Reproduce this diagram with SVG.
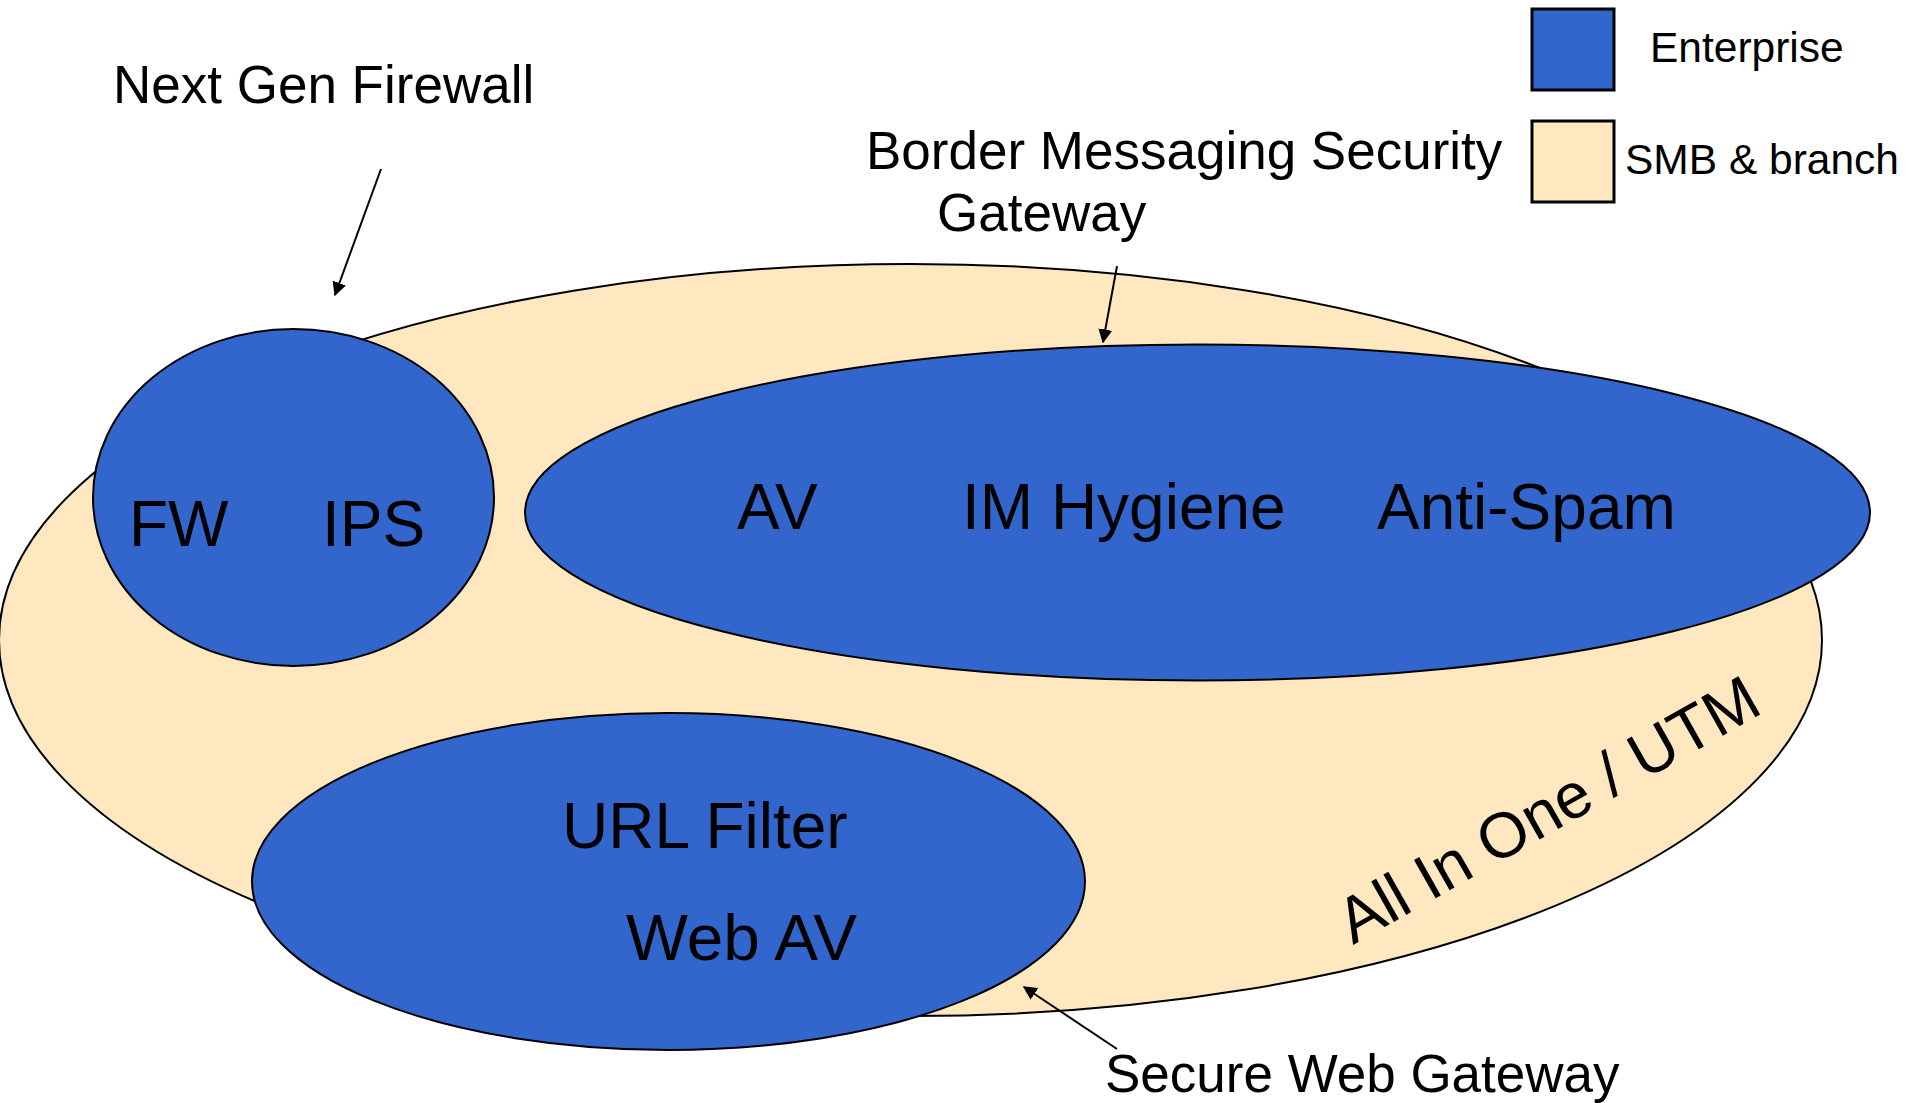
<svg xmlns="http://www.w3.org/2000/svg" width="1909" height="1103" viewBox="0 0 1909 1103">
  <style>
    .ent { fill: #3366CC; stroke: #000; stroke-width: 2; }
    .smb { fill: #FFE8C0; stroke: #000; stroke-width: 2; }
    .key { stroke: #000; stroke-width: 3; }
    .lbl { font-family: "Liberation Sans", Arial, sans-serif; fill: #000; }
    .big { font-size: 64px; }
    .cap { font-size: 53px; }
    .leg { font-size: 42.5px; }
    .arr { stroke: #000; stroke-width: 2; fill: none; marker-end: url(#head); }
  </style>
  <defs>
    <marker id="head" viewBox="0 0 10 10" refX="9" refY="5" markerWidth="7" markerHeight="7" markerUnits="strokeWidth" orient="auto">
      <path d="M0,0 L10,5 L0,10 z" fill="#000"/>
    </marker>
  </defs>
  <rect width="1909" height="1103" fill="#fff"/>

  <!-- All In One / UTM (SMB & branch) -->
  <g id="utm">
    <ellipse class="smb" cx="910.5" cy="640" rx="911.5" ry="376"/>
    <text class="lbl big" x="1353" y="945" transform="rotate(-29.5 1353 945)">All In One / UTM</text>
  </g>

  <!-- Next Gen Firewall -->
  <g id="ngfw">
    <ellipse class="ent" cx="293.5" cy="497.5" rx="200.5" ry="168.5"/>
    <text class="lbl big" x="129" y="546">FW</text>
    <text class="lbl big" x="322" y="546">IPS</text>
  </g>

  <!-- Border Messaging Security Gateway -->
  <g id="bmsg">
    <ellipse class="ent" cx="1197.5" cy="512.5" rx="672.5" ry="168"/>
    <text class="lbl big" x="737" y="529">AV</text>
    <text class="lbl big" x="962" y="529">IM Hygiene</text>
    <text class="lbl big" x="1377" y="529">Anti-Spam</text>
  </g>

  <!-- Secure Web Gateway -->
  <g id="swg">
    <ellipse class="ent" cx="668.5" cy="881.5" rx="416.5" ry="168.5"/>
    <text class="lbl big" x="562" y="848">URL Filter</text>
    <text class="lbl big" x="626" y="960" textLength="231" lengthAdjust="spacingAndGlyphs">Web AV</text>
  </g>

  <!-- Callout captions -->
  <g id="captions">
    <text class="lbl cap" x="113" y="103">Next Gen Firewall</text>
    <text class="lbl cap" x="866" y="169">Border Messaging Security</text>
    <text class="lbl cap" x="937" y="231">Gateway</text>
    <text class="lbl cap" x="1105" y="1092">Secure Web Gateway</text>
  </g>

  <!-- Legend -->
  <g id="legend">
    <rect class="key" x="1532" y="9" width="82" height="81" fill="#3366CC"/>
    <text class="lbl leg" x="1650" y="62">Enterprise</text>
    <rect class="key" x="1532" y="121" width="82" height="81" fill="#FFE8C0"/>
    <text class="lbl leg" x="1625" y="174">SMB &amp; branch</text>
  </g>

  <!-- Callout arrows -->
  <g id="connectors">
    <line class="arr" x1="381" y1="169" x2="335" y2="295"/>
    <line class="arr" x1="1117" y1="266" x2="1103" y2="342"/>
    <line class="arr" x1="1117" y1="1049" x2="1024" y2="987"/>
  </g>
</svg>
